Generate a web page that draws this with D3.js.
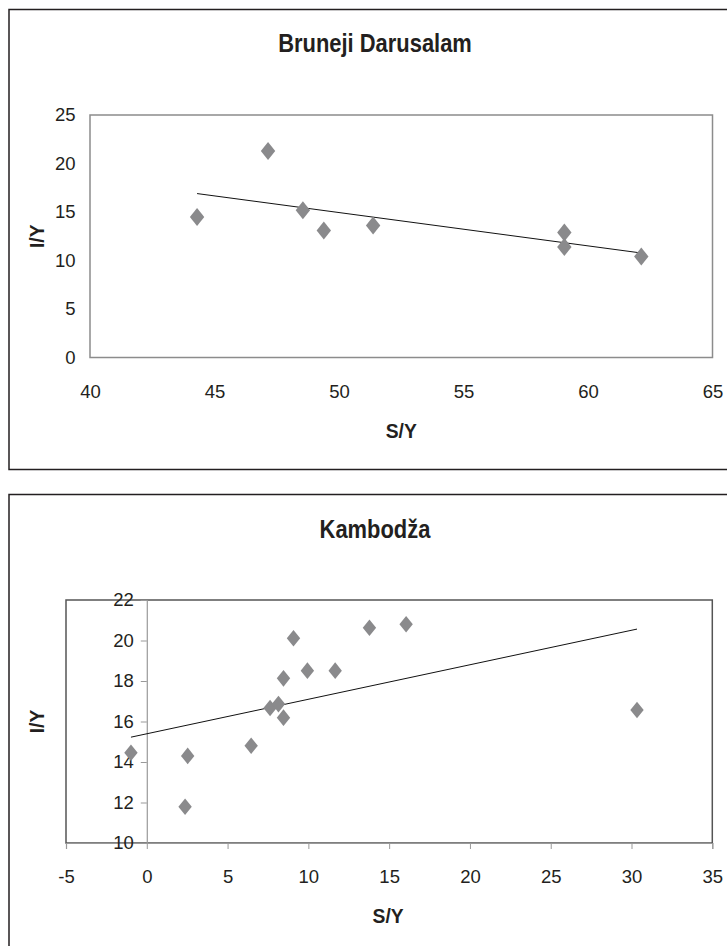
<!DOCTYPE html>
<html>
<head>
<meta charset="utf-8">
<script src="https://cdn.jsdelivr.net/npm/d3@7"></script>
<style>
  html, body { margin: 0; padding: 0; background: #fff; }
  svg { display: block; }
  text { font-family: "Liberation Sans", Arial, sans-serif; fill: #231f20; }
</style>
</head>
<body>
<svg id="chart" width="727" height="946"></svg>
<script>
// ---- Data ----
const bruneiTitle = "Bruneji Darusalam";
const bruneiSY = [44.3, 47.15, 48.55, 49.39, 51.37, 59.05, 59.05, 62.14];
const bruneiIY = [14.49, 21.3, 15.17, 13.08, 13.6, 12.88, 11.4, 10.41];
const bruneiXTicks = [40, 45, 50, 55, 60, 65];
const bruneiYTicks = [0, 5, 10, 15, 20, 25];

const cambodiaTitle = "Kambodža";
const cambodiaSY = [-0.98, 2.53, 2.37, 6.46, 7.63, 8.15, 8.46, 8.46, 9.08, 9.94, 11.66, 13.78, 16.05, 30.34];
const cambodiaIY = [14.46, 14.30, 11.79, 14.80, 16.67, 16.86, 16.19, 18.13, 20.11, 18.51, 18.51, 20.63, 20.80, 16.57];
const cambodiaXTicks = [-5, 0, 5, 10, 15, 20, 25, 30, 35];
const cambodiaYTicks = [10, 12, 14, 16, 18, 20, 22];

const xLabel = "S/Y";
const yLabel = "I/Y";

// ---- Helpers ----
const svg = d3.select("#chart");

function regression(xs, ys) {
  const mx = d3.mean(xs), my = d3.mean(ys);
  let sxy = 0, sxx = 0;
  xs.forEach((x, i) => { sxy += (x - mx) * (ys[i] - my); sxx += (x - mx) * (x - mx); });
  const b = sxy / sxx, a = my - b * mx;
  return x => a + b * x;
}

function diamond(hw, hh) {
  const p = d3.path();
  p.moveTo(0, -hh); p.lineTo(hw, 0); p.lineTo(0, hh); p.lineTo(-hw, 0); p.closePath();
  return p.toString();
}

function drawChart(cfg) {
  const g = svg.append("g");
  // outer frame
  g.append("rect")
    .attr("x", 9).attr("y", cfg.frameTop)
    .attr("width", 760).attr("height", cfg.frameH)
    .attr("fill", "none").attr("stroke", "#231f20").attr("stroke-width", 1.5);

  const x = d3.scaleLinear().domain(cfg.xDomain).range([cfg.left, cfg.right]);
  const y = d3.scaleLinear().domain(cfg.yDomain).range([cfg.bottom, cfg.top]);

  // title
  g.append("text")
    .attr("transform", `translate(375,${cfg.titleY}) scale(0.86,1)`)
    .attr("text-anchor", "middle").style("font-size", "25.5px").style("font-weight", "bold")
    .text(cfg.title);

  // plot area
  g.append("rect")
    .attr("x", cfg.left).attr("y", cfg.top)
    .attr("width", cfg.right - cfg.left).attr("height", cfg.bottom - cfg.top)
    .attr("fill", "none").attr("stroke", cfg.plotStroke).attr("stroke-width", 1.5);

  // axes
  const fmt = d => String(d);
  const xAxis = d3.axisBottom(x).tickValues(cfg.xTicks).tickFormat(fmt)
    .tickSize(cfg.xTickSize).tickPadding(cfg.xTickPad);
  const gx = g.append("g").attr("transform", `translate(0,${cfg.bottom})`).call(xAxis);
  const yAxis = d3.axisLeft(y).tickValues(cfg.yTicks).tickFormat(fmt)
    .tickSize(cfg.yTickSize).tickPadding(cfg.yTickPad);
  const gy = g.append("g").attr("transform", `translate(${cfg.yAxisX(x)},0)`).call(yAxis);

  [gx, gy].forEach(a => {
    a.selectAll("text").style("font-size", "18.5px").attr("fill", "#231f20")
      .style("font-family", '"Liberation Sans", Arial, sans-serif');
    a.selectAll("line").attr("stroke", "#999").attr("stroke-width", 1);
    a.select(".domain").attr("stroke", cfg.showDomain ? "#999" : "none").attr("stroke-width", 1.2);
  });

  // trend line
  const f = regression(cfg.xs, cfg.ys);
  const xmin = d3.min(cfg.xs), xmax = d3.max(cfg.xs);
  g.append("line")
    .attr("x1", x(xmin)).attr("y1", y(f(xmin)))
    .attr("x2", x(xmax)).attr("y2", y(f(xmax)))
    .attr("stroke", "#111").attr("stroke-width", 1);

  // points
  g.selectAll("path.pt").data(cfg.xs.map((v, i) => [v, cfg.ys[i]])).enter()
    .append("path").attr("class", "pt")
    .attr("d", diamond(cfg.mw, cfg.mh))
    .attr("transform", d => `translate(${x(d[0])},${y(d[1])})`)
    .attr("fill", "#8a8a8c");

  // axis titles
  g.append("text")
    .attr("transform", `translate(${(cfg.left + cfg.right) / 2 + cfg.xLabelShift},${cfg.xLabelY}) scale(0.92,1)`)
    .attr("text-anchor", "middle").style("font-size", "21px").style("font-weight", "bold")
    .text(xLabel);
  g.append("text")
    .attr("transform", `translate(44,${(cfg.top + cfg.bottom) / 2}) rotate(-90) scale(0.92,1)`)
    .attr("text-anchor", "middle").style("font-size", "21px").style("font-weight", "bold")
    .text(yLabel);
}

drawChart({
  title: bruneiTitle, xs: bruneiSY, ys: bruneiIY,
  xTicks: bruneiXTicks, yTicks: bruneiYTicks,
  xDomain: [40, 65], yDomain: [0, 25],
  frameTop: 9.5, frameH: 460, titleY: 51.7,
  left: 90, right: 712.5, top: 115, bottom: 357.5,
  plotStroke: "#8c8c8c",
  xTickSize: 0, xTickPad: 27.4, yTickSize: 0, yTickPad: 14.5,
  yAxisX: x => 90, showDomain: false,
  mw: 7.2, mh: 9, xLabelY: 438, xLabelShift: 0
});

drawChart({
  title: cambodiaTitle, xs: cambodiaSY, ys: cambodiaIY,
  xTicks: cambodiaXTicks, yTicks: cambodiaYTicks,
  xDomain: [-5, 35], yDomain: [10, 22],
  frameTop: 494.5, frameH: 470, titleY: 538,
  left: 66, right: 712.3, top: 600, bottom: 843,
  plotStroke: "#555",
  xTickSize: 6, xTickPad: 20.9, yTickSize: 6, yTickPad: 7,
  yAxisX: x => x(0), showDomain: true,
  mw: 6.7, mh: 8.3, xLabelY: 923, xLabelShift: -1
});
</script>
</body>
</html>
